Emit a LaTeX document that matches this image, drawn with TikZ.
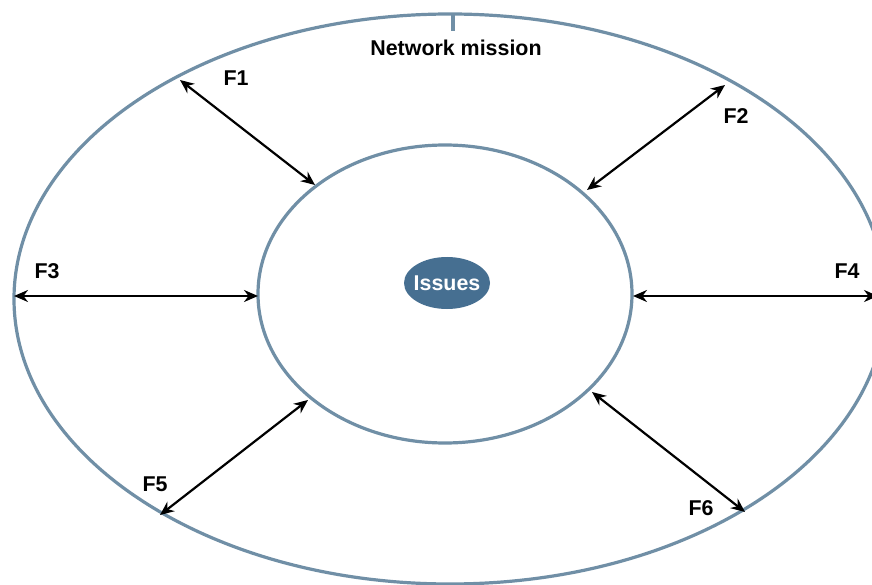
\documentclass[tikz,border=0pt]{standalone}
\usepackage{fontspec}
\setmainfont{Liberation Sans}
\usetikzlibrary{arrows.meta,shapes.geometric}
\definecolor{ringc}{RGB}{112,143,166}
\definecolor{issuec}{RGB}{70,111,145}
\tikzset{
  ring/.style={draw=ringc,line width=3.2pt},
  flow/.style={draw=black,line width=2.2pt,{Stealth[length=14pt,width=12pt]}-{Stealth[length=14pt,width=12pt]}},
  lab/.style={font=\fontsize{21.4}{23}\selectfont\bfseries,inner sep=0pt}
}
\begin{document}
\begin{tikzpicture}[x=1pt,y=-1pt]
\useasboundingbox (0,0) rectangle (872,585);
\clip (0,0) rectangle (872,585);
\fill[white] (0,0) rectangle (872,585);
\draw[ring] (450,299) ellipse [x radius=436,y radius=285];
\draw[ring] (453,14) -- (453,31);
\draw[ring] (445,294) ellipse [x radius=187,y radius=149];
\node[ellipse,fill=issuec,minimum width=86pt,minimum height=52pt,inner sep=0pt] (iss) at (447,283) {};
\node[lab,text=white] at (iss) {Issues};
\node[lab] (nm) at (456,48) {Network mission};
\coordinate (a1) at (180,80); \coordinate (b1) at (315,185);
\coordinate (a2) at (725,85); \coordinate (b2) at (587,190);
\coordinate (a3) at (14,296); \coordinate (b3) at (258,296);
\coordinate (a4) at (878,296); \coordinate (b4) at (633,296);
\coordinate (a5) at (160,515); \coordinate (b5) at (308,400);
\coordinate (a6) at (745,512); \coordinate (b6) at (592,392);
\draw[flow] (a1) -- (b1);
\draw[flow] (a2) -- (b2);
\draw[flow] (a3) -- (b3);
\draw[flow] (a4) -- (b4);
\draw[flow] (a5) -- (b5);
\draw[flow] (a6) -- (b6);
\node[lab] (f1) at (236,78) {F1};
\node[lab] (f2) at (736,116) {F2};
\node[lab] (f3) at (47,271) {F3};
\node[lab] (f4) at (847,271) {F4};
\node[lab] (f5) at (155,484) {F5};
\node[lab] (f6) at (701,508) {F6};
\end{tikzpicture}
\end{document}
